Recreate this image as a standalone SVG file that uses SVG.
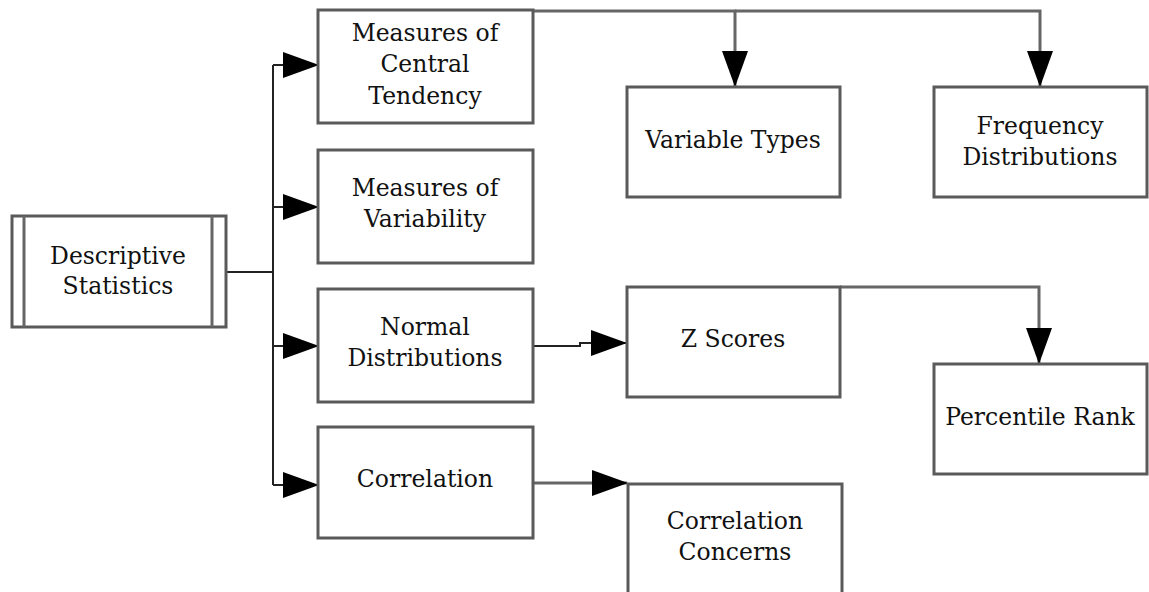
<svg xmlns="http://www.w3.org/2000/svg" width="1149" height="592" viewBox="0 0 1149 592">
<style>
.box{fill:#fff;stroke:#5a5a5a;stroke-width:3}
.t{font-family:"DejaVu Serif",serif;font-size:23.5px;fill:#111;text-anchor:middle}
.c{fill:none;stroke:#222;stroke-width:2}
.g{fill:none;stroke:#666;stroke-width:3}
</style>
<defs>
<marker id="ah" markerUnits="userSpaceOnUse" markerWidth="36" markerHeight="26" viewBox="0 0 36 26" refX="35" refY="13" orient="auto">
<path d="M0,0 L36,13 L0,26 Z" fill="#000"/>
</marker>
</defs>
<g id="connectors">
<path class="c" d="M227,272 H273"/>
<path class="c" d="M273,65 V485"/>
<path class="c" d="M273,65 H318" marker-end="url(#ah)"/>
<path class="c" d="M273,207 H318" marker-end="url(#ah)"/>
<path class="c" d="M273,346 H318" marker-end="url(#ah)"/>
<path class="c" d="M273,485 H318" marker-end="url(#ah)"/>
<path class="g" d="M533,11 H735 V86" marker-end="url(#ah)"/>
<path class="g" d="M735,11 H1040 V86" marker-end="url(#ah)"/>
<path class="c" d="M533,346 H580 V343 H626" marker-end="url(#ah)"/>
<path class="g" d="M840,287 H1039 V363" marker-end="url(#ah)"/>
<path class="g" d="M533,483 H627" marker-end="url(#ah)"/>
</g>
<g id="descriptive">
<rect class="box" x="12" y="216" width="214" height="111"/>
<path class="g" d="M24,216 V327 M212,216 V327"/>
<text class="t" x="118" y="264">Descriptive</text>
<text class="t" x="118" y="294">Statistics</text>
</g>
<g id="central">
<rect class="box" x="318" y="10" width="215" height="113"/>
<text class="t" x="425" y="41">Measures of</text>
<text class="t" x="425" y="72">Central</text>
<text class="t" x="425" y="104">Tendency</text>
</g>
<g id="variability">
<rect class="box" x="318" y="150" width="215" height="113"/>
<text class="t" x="425" y="196">Measures of</text>
<text class="t" x="425" y="227">Variability</text>
</g>
<g id="normal">
<rect class="box" x="318" y="289" width="215" height="113"/>
<text class="t" x="425" y="335">Normal</text>
<text class="t" x="425" y="366">Distributions</text>
</g>
<g id="correlation">
<rect class="box" x="318" y="427" width="215" height="111"/>
<text class="t" x="425" y="487">Correlation</text>
</g>
<g id="vartypes">
<rect class="box" x="627" y="87" width="213" height="110"/>
<text class="t" x="733" y="148">Variable Types</text>
</g>
<g id="freq">
<rect class="box" x="934" y="87" width="213" height="110"/>
<text class="t" x="1040" y="134">Frequency</text>
<text class="t" x="1040" y="165">Distributions</text>
</g>
<g id="zscores">
<rect class="box" x="627" y="287" width="213" height="110"/>
<text class="t" x="733" y="347">Z Scores</text>
</g>
<g id="percentile">
<rect class="box" x="934" y="364" width="213" height="110"/>
<text class="t" x="1040" y="425">Percentile Rank</text>
</g>
<g id="concerns">
<rect class="box" x="628" y="484" width="214" height="120"/>
<text class="t" x="735" y="529">Correlation</text>
<text class="t" x="735" y="560">Concerns</text>
</g>
</svg>
